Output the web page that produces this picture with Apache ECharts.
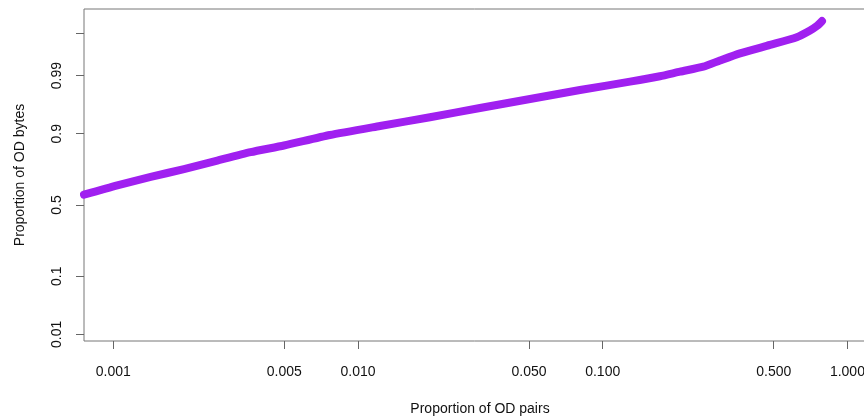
<!DOCTYPE html>
<html>
<head>
<meta charset="utf-8">
<script src="https://cdn.jsdelivr.net/npm/echarts@6/dist/echarts.min.js"></script>
<style>
html,body{margin:0;padding:0;background:#fff;overflow:hidden;}
#c{width:864px;height:418px;}
</style>
</head>
<body>
<div id="c"></div>
<script>
// Data (proportion of OD pairs vs proportion of OD bytes)
const odPairs = [0.000759, 0.001038, 0.001422, 0.001945, 0.002661, 0.003642, 0.004983,
  0.007683, 0.0123, 0.01969, 0.03152, 0.05047, 0.08078, 0.1293, 0.1714, 0.2070, 0.2577,
  0.3015, 0.3640, 0.4829, 0.6208, 0.7035, 0.7510, 0.7874];
const odBytes = [0.5734, 0.6383, 0.6929, 0.7412, 0.7881, 0.8290, 0.8577,
  0.8960, 0.9223, 0.9426, 0.9595, 0.9717, 0.9807, 0.98672, 0.98969, 0.99174, 0.99356,
  0.99533, 0.99681, 0.9980, 0.99872, 0.99915, 0.99936, 0.99953];

const xTickValues = [0.001, 0.005, 0.01, 0.05, 0.1, 0.5, 1.0];
const xTickLabels = ['0.001', '0.005', '0.010', '0.050', '0.100', '0.500', '1.000'];
const yTickValues = [0.01, 0.1, 0.5, 0.9, 0.99, 0.999];
const yTickLabels = ['0.01', '0.1', '0.5', '0.9', '0.99', ''];

// Normal quantile (probit) transform used by the y axis
function qnorm(p) {
  const a = [-3.969683028665376e+01, 2.209460984245205e+02, -2.759285104469687e+02, 1.383577518672690e+02, -3.066479806614716e+01, 2.506628277459239e+00];
  const b = [-5.447609879822406e+01, 1.615858368580409e+02, -1.556989798598866e+02, 6.680131188771972e+01, -1.328068155288572e+01];
  const c = [-7.784894002430293e-03, -3.223964580411365e-01, -2.400758277161838e+00, -2.549732539343734e+00, 4.374664141464968e+00, 2.938163982698783e+00];
  const d = [7.784695709041462e-03, 3.224671290700398e-01, 2.445134137142996e+00, 3.754408661907416e+00];
  const pl = 0.02425, ph = 1 - pl;
  let q, r;
  if (p < pl) {
    q = Math.sqrt(-2 * Math.log(p));
    return (((((c[0]*q+c[1])*q+c[2])*q+c[3])*q+c[4])*q+c[5]) / ((((d[0]*q+d[1])*q+d[2])*q+d[3])*q+1);
  } else if (p <= ph) {
    q = p - 0.5; r = q * q;
    return (((((a[0]*r+a[1])*r+a[2])*r+a[3])*r+a[4])*r+a[5])*q / (((((b[0]*r+b[1])*r+b[2])*r+b[3])*r+b[4])*r+1);
  } else {
    q = Math.sqrt(-2 * Math.log(1 - p));
    return -(((((c[0]*q+c[1])*q+c[2])*q+c[3])*q+c[4])*q+c[5]) / ((((d[0]*q+d[1])*q+d[2])*q+d[3])*q+1);
  }
}
const lx = v => Math.log10(v);

const seriesData = odPairs.map((x, i) => [lx(x), qnorm(odBytes[i])]);
const xTickPos = xTickValues.map(lx);
const yTickPos = yTickValues.map(qnorm);

function lookup(pos, labels, v) {
  for (let i = 0; i < pos.length; i++) if (Math.abs(pos[i] - v) < 1e-6) return labels[i];
  return '';
}

const font = '"Liberation Sans", Arial, Helvetica, sans-serif';
const chart = echarts.init(document.getElementById('c'), null, {renderer: 'canvas'});
chart.setOption({
  animation: false,
  backgroundColor: '#ffffff',
  grid: {left: 84, width: 792, top: 9, height: 332, outerBoundsMode: 'none', containLabel: false,
    show: true, borderColor: '#777', borderWidth: 1, backgroundColor: 'transparent'},
  xAxis: {
    type: 'value',
    position: 'bottom',
    min: -3.1197, max: 0.1169,
    name: 'Proportion of OD pairs',
    nameLocation: 'middle',
    nameGap: 61,
    nameTextStyle: {fontFamily: font, fontSize: 14, color: '#111'},
    axisLine: {show: false, onZero: false},
    splitLine: {show: false},
    axisTick: {show: true, length: 8, lineStyle: {color: '#666'}, customValues: xTickPos},
    axisLabel: {
      customValues: xTickPos, margin: 24, fontFamily: font, fontSize: 14, color: '#111',
      formatter: v => lookup(xTickPos, xTickLabels, v)
    }
  },
  yAxis: {
    type: 'value',
    position: 'left',
    min: -2.446, max: 3.525,
    name: 'Proportion of OD bytes',
    nameLocation: 'middle',
    nameGap: 57,
    nameRotate: 90,
    nameTextStyle: {fontFamily: font, fontSize: 14, color: '#111'},
    axisLine: {show: false, onZero: false},
    splitLine: {show: false},
    axisTick: {show: true, length: 8, lineStyle: {color: '#666'}, customValues: yTickPos},
    axisLabel: {
      customValues: yTickPos, margin: 20, rotate: 90, fontFamily: font, fontSize: 14, color: '#111',
      formatter: v => lookup(yTickPos, yTickLabels, v)
    }
  },
  series: [{
    type: 'line',
    data: seriesData,
    showSymbol: false,
    smooth: 0.2,
    clip: true,
    lineStyle: {color: '#A020F0', width: 8, cap: 'round', join: 'round'}
  }]
});
</script>
</body>
</html>
